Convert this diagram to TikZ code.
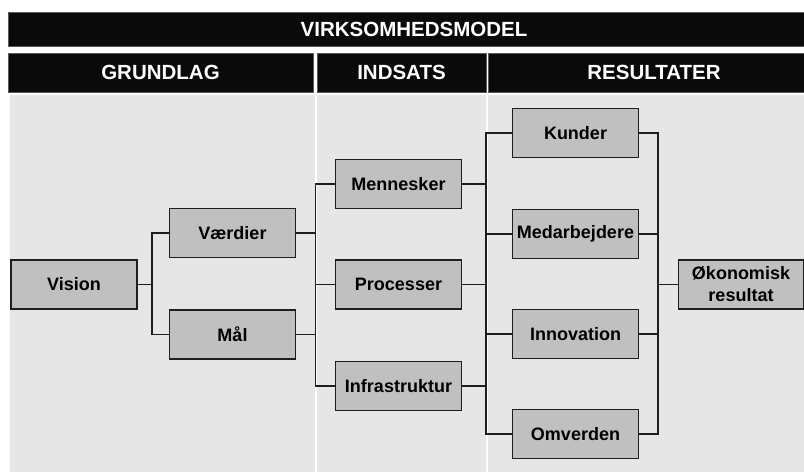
\documentclass[tikz,border=0pt]{standalone}
\usepackage{fontspec}
\setmainfont{Liberation Sans}
\definecolor{bg}{HTML}{E6E6E6}
\definecolor{boxfill}{HTML}{C0C0C0}
\definecolor{hdr}{HTML}{0A0A0A}
\definecolor{hdredge}{HTML}{5A5A5A}
\definecolor{linec}{HTML}{1E1E1E}
\begin{document}
\begin{tikzpicture}[x=1pt,y=-1pt,
  box/.style={draw=linec, line width=1.3pt, fill=boxfill, minimum width=126pt, minimum height=49pt,
    inner sep=0pt, font=\fontsize{18}{22}\selectfont\bfseries, align=center},
  conn/.style={draw=linec, line width=1.3pt},
  hdrbox/.style={draw=hdredge, line width=0.6pt, fill=hdr, text=white, inner sep=0pt,
    font=\fontsize{20.5}{24}\selectfont\bfseries},
  panel/.style={fill=bg, draw=none}]
\useasboundingbox (0,0) rectangle (804,472);
\clip (0,0) rectangle (804,472);
\fill[white] (0,0) rectangle (804,472);

% panels
\fill[panel] (10,95) rectangle (315,472);
\fill[panel] (317,95) rectangle (485.5,472);
\fill[panel] (487.5,95) rectangle (820,472);

% headers
\node[hdrbox, minimum width=812pt, minimum height=34pt] (title) at (414,29) {VIRKSOMHEDSMODEL};
\node[hdrbox, minimum width=305pt, minimum height=39pt] (hg) at (160.5,72.5) {GRUNDLAG};
\node[hdrbox, minimum width=169pt, minimum height=39pt] (hi) at (401.5,72.5) {INDSATS};
\node[hdrbox, minimum width=332pt, minimum height=39pt] (hr) at (654,72.5) {RESULTATER};

% boxes
\node[box] (vision) at (74,284.5) {Vision};
\node[box] (vaerdier) at (232.5,233) {Værdier};
\node[box] (maal) at (232.5,334.5) {Mål};
\node[box] (menn) at (398.5,184) {Mennesker};
\node[box] (proc) at (398.5,284.5) {Processer};
\node[box] (infra) at (398.5,386) {Infrastruktur};
\node[box] (kunder) at (575.5,133) {Kunder};
\node[box] (medarb) at (575.5,234) {Medarbejdere};
\node[box] (innov) at (575.5,334) {Innovation};
\node[box] (omv) at (575.5,434) {Omverden};
\node[box, minimum width=125pt] (oeko) at (741,284.5) {Økonomisk\\resultat};

% bus coordinates
\coordinate (b1) at (152,0);
\coordinate (b2) at (315.5,0);
\coordinate (b3) at (486,0);
\coordinate (b4) at (658,0);

% connectors
\draw[conn] (vision.east) -- (vision.east -| b1);
\draw[conn] (vaerdier.west) -- (vaerdier.west -| b1) -- (maal.west -| b1) -- (maal.west);

\draw[conn] (vaerdier.east) -- (vaerdier.east -| b2);
\draw[conn] (maal.east) -- (maal.east -| b2);
\draw[conn] (menn.west) -- (menn.west -| b2) -- (infra.west -| b2) -- (infra.west);
\draw[conn] (proc.west) -- (proc.west -| b2);

\draw[conn] (menn.east) -- (menn.east -| b3);
\draw[conn] (proc.east) -- (proc.east -| b3);
\draw[conn] (infra.east) -- (infra.east -| b3);
\draw[conn] (kunder.west) -- (kunder.west -| b3) -- (omv.west -| b3) -- (omv.west);
\draw[conn] (medarb.west) -- (medarb.west -| b3);
\draw[conn] (innov.west) -- (innov.west -| b3);

\draw[conn] (kunder.east) -- (kunder.east -| b4) -- (omv.east -| b4) -- (omv.east);
\draw[conn] (medarb.east) -- (medarb.east -| b4);
\draw[conn] (innov.east) -- (innov.east -| b4);
\draw[conn] (oeko.west) -- (oeko.west -| b4);
\end{tikzpicture}
\end{document}
